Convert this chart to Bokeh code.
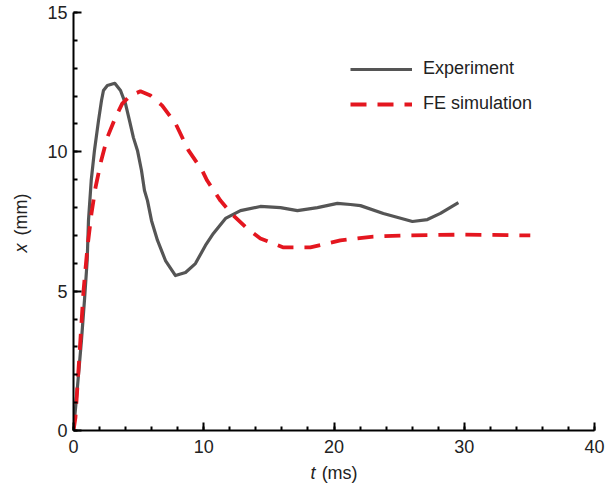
import math
from bokeh.plotting import figure
from bokeh.models import Range1d, Label, Legend, LegendItem, FixedTicker
from bokeh.embed import file_html
from bokeh.resources import INLINE

# Experiment (t in ms, x in mm)
exp_t = [0.0, 0.28, 0.61, 0.84, 1.05, 1.15, 1.36, 1.61, 1.92, 2.15, 2.30, 2.6, 3.17,
         3.61, 3.99, 4.30, 4.60, 4.91, 5.22, 5.45, 5.68, 5.99, 6.45, 7.06, 7.83,
         8.60, 9.36, 10.13, 10.74, 11.67, 12.82, 14.35, 15.89, 17.19, 18.73, 20.26,
         21.26, 22.03, 23.79, 26.02, 27.17, 28.17, 29.55]
exp_x = [0.0, 1.44, 3.23, 4.66, 6.10, 7.53, 8.97, 10.05, 11.12, 11.84, 12.2, 12.38, 12.46,
         12.2, 11.73, 11.12, 10.51, 10.05, 9.33, 8.61, 8.25, 7.53, 6.82, 6.10, 5.56,
         5.67, 5.99, 6.64, 7.07, 7.61, 7.89, 8.04, 8.00, 7.89, 8.00, 8.15,
         8.11, 8.07, 7.79, 7.50, 7.57, 7.79, 8.18]

# FE simulation
fe_t = [0.0, 0.15, 0.77, 1.07, 1.38, 1.69, 2.13, 2.59, 3.22, 3.74, 4.37, 5.14, 5.91,
        6.81, 7.83, 8.83, 9.88, 10.26, 11.28, 12.28, 13.33, 14.35, 16.12, 18.19,
        20.49, 23.02, 25.63, 29.93, 35.07]
fe_x = [0.0, 0.47, 5.02, 6.57, 7.79, 8.72, 9.69, 10.51, 11.23, 11.73, 12.02, 12.17, 12.02,
        11.66, 11.02, 10.05, 9.33, 8.97, 8.25, 7.71, 7.25, 6.89, 6.57, 6.57,
        6.82, 6.96, 7.00, 7.03, 7.00]

x_ticks = [0, 10, 20, 30, 40]
y_ticks = [0, 5, 10, 15]
x_minor = [v for v in range(0, 41, 2)]
y_minor = [v for v in range(0, 16, 1)]

FONT = "Liberation Sans"
GRAY = "#555555"
RED = "#e4161f"
TXT = "#222222"

p = figure(width=614, height=485, output_backend="svg", toolbar_location=None,
           x_range=Range1d(0, 40), y_range=Range1d(0, 15),
           min_border_left=73, min_border_right=20, min_border_top=12, min_border_bottom=55)
p.outline_line_color = None
p.grid.visible = False
p.background_fill_color = "white"

for ax, ticks, minor in ((p.xaxis[0], x_ticks, x_minor), (p.yaxis[0], y_ticks, y_minor)):
    ax.ticker = FixedTicker(ticks=ticks, minor_ticks=minor)
    ax.axis_line_width = 2
    ax.axis_line_color = "black"
    ax.major_tick_line_width = 2
    ax.minor_tick_line_width = 2
    ax.major_tick_line_color = "black"
    ax.minor_tick_line_color = "black"
    ax.major_tick_in = 8
    ax.major_tick_out = 0
    ax.minor_tick_in = 4
    ax.minor_tick_out = 0
    ax.major_label_text_font = FONT
    ax.major_label_text_font_size = "18px"
    ax.major_label_text_color = TXT

p.xaxis.major_label_standoff = 9
p.yaxis.major_label_standoff = 6

r_exp = p.line(exp_t, exp_x, line_color=GRAY, line_width=3.2, line_join="round")
r_fe = p.line(fe_t, fe_x, line_color=RED, line_width=3.8, line_dash="16 11", line_cap="butt")

legend = Legend(items=[LegendItem(label="Experiment", renderers=[r_exp]),
                       LegendItem(label="FE simulation", renderers=[r_fe])],
                location=(277, 316), padding=0, margin=0, spacing=14,
                glyph_width=62, glyph_height=20, label_height=20, label_standoff=11,
                border_line_alpha=0, background_fill_alpha=0,
                label_text_font=FONT, label_text_font_size="18px",
                label_text_color=TXT)
p.add_layout(legend, "center")

# axis titles placed in side panels (outside the clipped frame), positioned in data units
p.add_layout(Label(x=18.19, y=-1.51, text="t", text_font=FONT, text_font_style="italic",
                   text_font_size="18px", text_baseline="middle", text_align="left",
                   text_color=TXT), "right")
p.add_layout(Label(x=19.05, y=-1.51, text="(ms)", text_font=FONT,
                   text_font_size="18px", text_baseline="middle", text_align="left",
                   text_color=TXT), "below")
p.add_layout(Label(x=-4.01, y=6.39, text="x", text_font=FONT, text_font_style="italic",
                   text_font_size="18px", text_baseline="middle", text_align="left",
                   angle=math.pi / 2, text_color=TXT), "left")
p.add_layout(Label(x=-4.01, y=7.0, text="(mm)", text_font=FONT,
                   text_font_size="18px", text_baseline="middle", text_align="left",
                   angle=math.pi / 2, text_color=TXT), "left")

open("out.html", "w").write(file_html(p, INLINE))
